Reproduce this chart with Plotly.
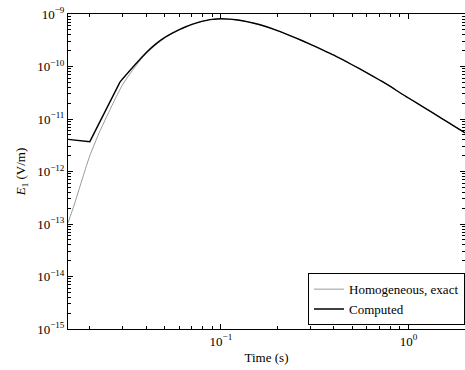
import plotly.graph_objects as go

# Time samples (s) for the analytic curve
time_exact = [0.0153, 0.0165, 0.0175, 0.019, 0.02, 0.0225, 0.025, 0.0275, 0.03,
              0.0325, 0.035, 0.0375, 0.04, 0.045, 0.05, 0.055, 0.06, 0.065,
              0.07, 0.075, 0.08, 0.085, 0.09, 0.095, 0.1, 0.11, 0.12, 0.13,
              0.15, 0.17, 0.2, 0.25, 0.3, 0.35, 0.4, 0.5, 0.6, 0.7, 0.8, 0.9,
              1.0, 1.2, 1.5, 1.75, 2.0]

# Electric field E1 (V/m), homogeneous half-space analytic solution
e1_exact = [1.05e-13, 2.3e-13, 4.5e-13, 1.15e-12, 2.0e-12, 5.6e-12, 1.25e-11,
            2.55e-11, 4.6e-11, 7.0e-11, 1.0e-10, 1.38e-10, 1.75e-10, 2.6e-10,
            3.45e-10, 4.25e-10, 5.0e-10, 5.7e-10, 6.3e-10, 6.85e-10, 7.3e-10,
            7.65e-10, 7.9e-10, 8.05e-10, 8.1e-10, 8.0e-10, 7.76e-10, 7.45e-10,
            6.68e-10, 5.9e-10, 4.83e-10, 3.51e-10, 2.65e-10, 2.06e-10, 1.64e-10,
            1.08e-10, 7.59e-11, 5.53e-11, 4.18e-11, 3.16e-11, 2.51e-11, 1.69e-11,
            1.03e-11, 7.33e-12, 5.45e-12]

# Time samples (s) and E1 (V/m) of the numerical result
time_computed = [0.0153, 0.02, 0.029, 0.035, 0.04, 0.045, 0.05, 0.055, 0.06,
                 0.065, 0.07, 0.075, 0.08, 0.085, 0.09, 0.095, 0.1, 0.11, 0.12,
                 0.13, 0.15, 0.17, 0.2, 0.25, 0.3, 0.35, 0.4, 0.5, 0.6, 0.7,
                 0.8, 0.9, 1.0, 1.2, 1.5, 1.75, 2.0]
e1_computed = [4.1e-12, 3.7e-12, 5.1e-11, 1.1e-10, 1.85e-10, 2.7e-10, 3.55e-10,
               4.3e-10, 5.05e-10, 5.72e-10, 6.32e-10, 6.86e-10, 7.3e-10,
               7.65e-10, 7.9e-10, 8.05e-10, 8.1e-10, 8.0e-10, 7.76e-10,
               7.45e-10, 6.68e-10, 5.9e-10, 4.83e-10, 3.51e-10, 2.65e-10,
               2.06e-10, 1.64e-10, 1.08e-10, 7.59e-11, 5.53e-11, 4.18e-11,
               3.16e-11, 2.51e-11, 1.69e-11, 1.03e-11, 7.33e-12, 5.45e-12]

y_ticks = [1e-15, 1e-14, 1e-13, 1e-12, 1e-11, 1e-10, 1e-9]
y_tick_text = ["10<sup>\u221215</sup>", "10<sup>\u221214</sup>", "10<sup>\u221213</sup>",
               "10<sup>\u221212</sup>", "10<sup>\u221211</sup>", "10<sup>\u221210</sup>",
               "10<sup>\u22129</sup>"]
x_ticks = [0.1, 1.0]
x_tick_text = ["10<sup>\u22121</sup>", "10<sup>0</sup>"]

# minor tick positions: 2..9 times each decade
x_minor = [m * 10.0 ** d for d in (-2, -1, 0) for m in range(2, 10)]
y_minor = [m * 10.0 ** d for d in range(-15, -9) for m in range(2, 10)]

font_family = "Liberation Serif, DejaVu Serif, serif"
font_size = 13

# the numerical result has a sharp corner in its early-time part:
# draw that part with straight segments and the rest as a smooth curve
n_early = 3

fig = go.Figure()
fig.add_trace(go.Scatter(x=time_exact, y=e1_exact, mode="lines",
                         name="Homogeneous, exact",
                         line=dict(color="#9a9a9a", width=1, shape="spline",
                                   smoothing=0.6)))
fig.add_trace(go.Scatter(x=time_computed[:n_early], y=e1_computed[:n_early],
                         mode="lines", name="Computed", legendgroup="computed",
                         showlegend=False,
                         line=dict(color="black", width=1.4)))
fig.add_trace(go.Scatter(x=time_computed[n_early - 1:], y=e1_computed[n_early - 1:],
                         mode="lines", name="Computed", legendgroup="computed",
                         line=dict(color="black", width=1.4, shape="spline",
                                   smoothing=0.6)))

axis_common = dict(
    type="log", showgrid=False, zeroline=False,
    showline=True, linecolor="black", linewidth=1,
    mirror="allticks", ticks="inside", ticklen=5, tickcolor="black",
    tickfont=dict(family=font_family, size=font_size, color="black"),
)

fig.update_xaxes(range=[-1.8153, 0.3010], tickvals=x_ticks, ticktext=x_tick_text,
                 minor=dict(tickvals=x_minor, ticks="inside", ticklen=3,
                            tickcolor="black", showgrid=False),
                 title=dict(text="Time (s)", font=dict(family=font_family,
                                                       size=font_size,
                                                       color="black"),
                            standoff=5),
                 **axis_common)
fig.update_yaxes(range=[-15, -9], tickvals=y_ticks, ticktext=y_tick_text,
                 minor=dict(tickvals=y_minor, ticks="inside", ticklen=3,
                            tickcolor="black", showgrid=False),
                 title=dict(text="<i>E</i><sub>1</sub> (V/m)",
                            font=dict(family=font_family, size=font_size,
                                      color="black"),
                            standoff=8),
                 **axis_common)

fig.update_layout(
    width=465, height=370,
    margin=dict(l=68, r=0, t=14, b=41),
    paper_bgcolor="white", plot_bgcolor="white",
    font=dict(family=font_family, size=font_size, color="black"),
    legend=dict(x=1, y=0.012, xanchor="right", yanchor="bottom",
                bgcolor="white", bordercolor="black", borderwidth=1,
                font=dict(family=font_family, size=font_size, color="black"),
                tracegroupgap=0, itemwidth=30),
    showlegend=True,
)

fig.write_html("out.html")
